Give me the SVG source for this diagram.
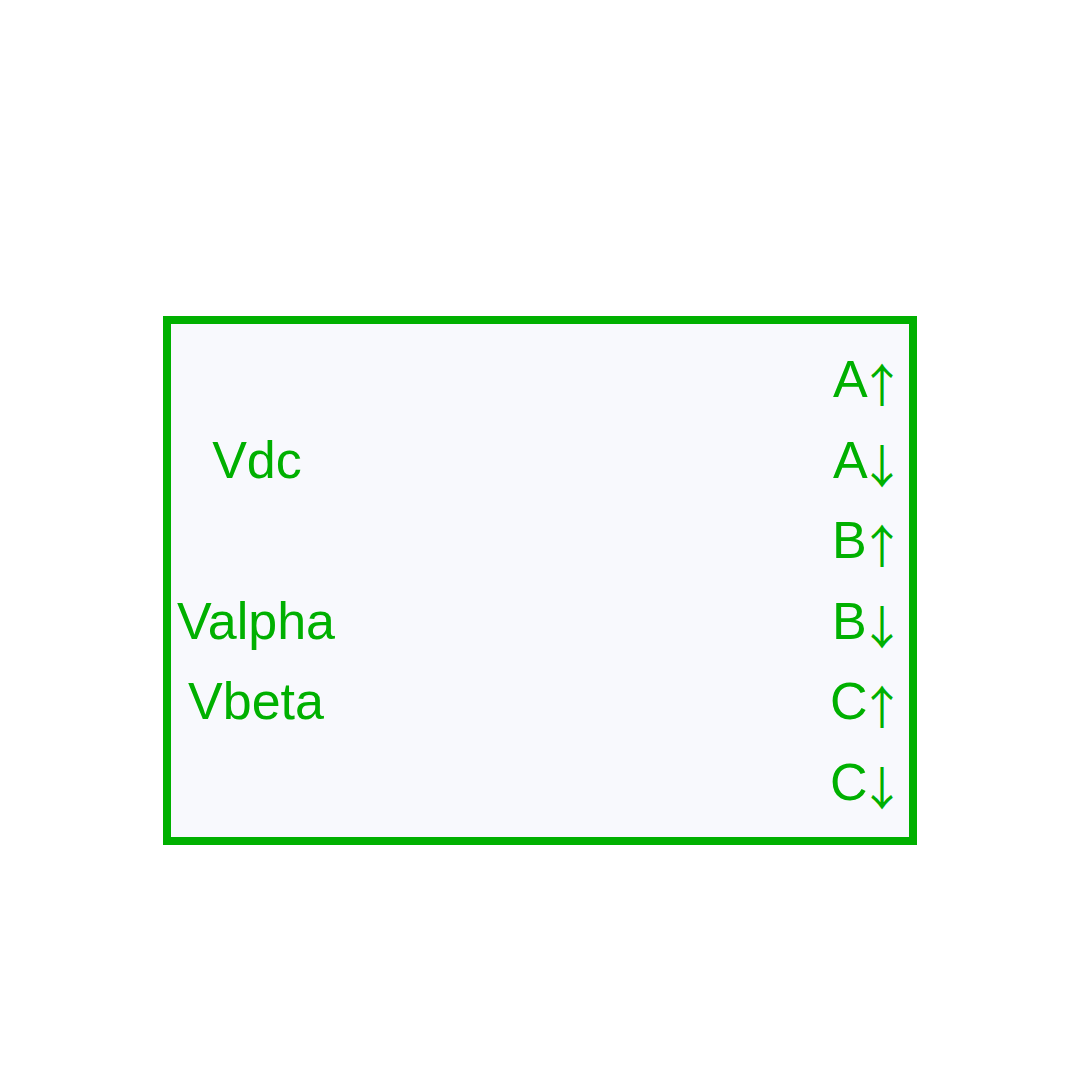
<svg xmlns="http://www.w3.org/2000/svg" width="1080" height="1080" viewBox="0 0 1080 1080">
<style>
.lbl{font-family:"Liberation Sans",Arial,sans-serif;font-size:52px;fill:#00b000}
.mid{text-anchor:middle}
.arr{font-family:"Noto Sans CJK SC","Noto Sans CJK JP",sans-serif;font-size:46px}
</style>
<rect width="1080" height="1080" fill="#ffffff"/>
<g id="block">
<rect x="167" y="320" width="746" height="521" fill="#f8f9fd" stroke="#00b000" stroke-width="8"/>
</g>
<g id="inputs">
<text class="lbl mid" x="257" y="478">Vdc</text>
<text class="lbl mid" x="256" y="639">Valpha</text>
<text class="lbl mid" x="256" y="719">Vbeta</text>
</g>
<g id="outputs">
<text class="lbl" x="833" y="397">A<tspan class="arr" x="859" dy="5">↑</tspan></text>
<text class="lbl" x="833" y="478">A<tspan class="arr" x="859" dy="5">↓</tspan></text>
<text class="lbl" x="832" y="558">B<tspan class="arr" x="859" dy="5">↑</tspan></text>
<text class="lbl" x="832" y="639">B<tspan class="arr" x="859" dy="5">↓</tspan></text>
<text class="lbl" x="830" y="719">C<tspan class="arr" x="859" dy="5">↑</tspan></text>
<text class="lbl" x="830" y="800">C<tspan class="arr" x="859" dy="5">↓</tspan></text>
</g>
<g id="connectors"/>
</svg>
